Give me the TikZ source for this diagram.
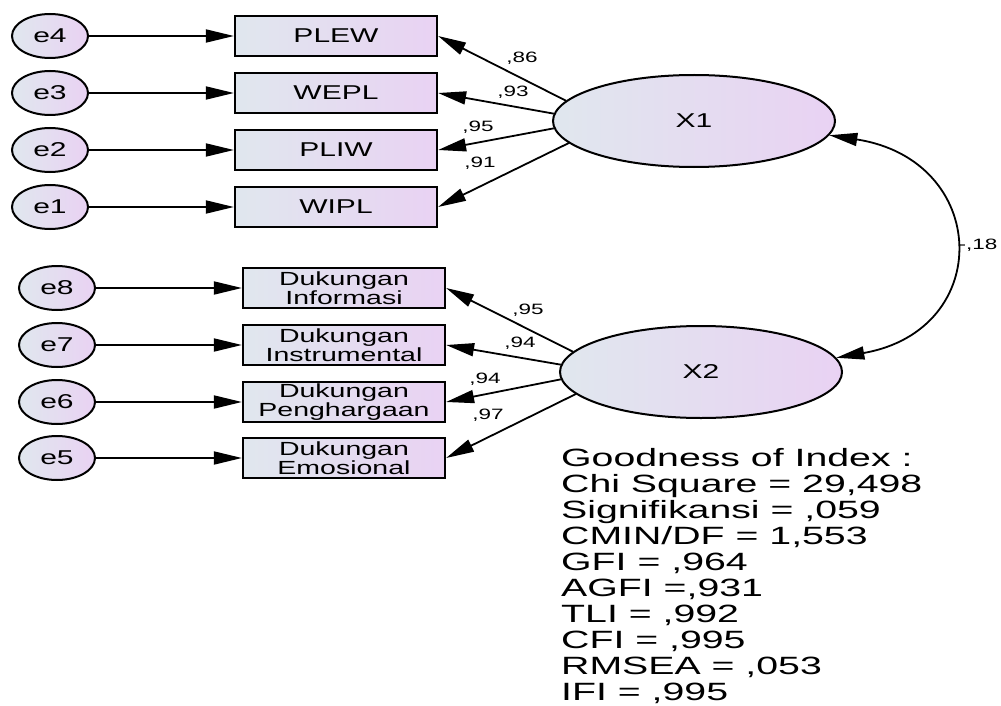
\documentclass[tikz,border=0pt]{standalone}
\usepackage{fontspec}
\setmainfont{Liberation Sans}
\usepackage{graphicx}
\usetikzlibrary{arrows.meta,shapes.geometric}

\definecolor{cA}{RGB}{224,231,238}
\definecolor{cB}{RGB}{233,210,243}
\newcommand{\sx}[2][1.5]{\scalebox{#1}[1]{#2}}

\tikzset{
  errnode/.style={ellipse, draw, line width=2pt, minimum width=76pt, minimum height=44pt,
    inner sep=0pt, left color=cA, right color=cB, font=\fontsize{20}{20}\selectfont},
  obsnode/.style={rectangle, draw, line width=2.2pt, minimum width=202pt, minimum height=40pt,
    inner sep=0pt, left color=cA, right color=cB, align=center, font=\fontsize{20}{20}\selectfont},
  obssmall/.style={obsnode, font=\fontsize{19}{18.5}\selectfont},
  latnode/.style={ellipse, draw, line width=2pt, minimum width=282pt, minimum height=92pt,
    inner sep=0pt, left color=cA, right color=cB, font=\fontsize{20}{20}\selectfont},
  arr/.style={-{Triangle[length=28pt,width=13pt]}, line width=1.8pt},
  covarr/.style={{Triangle[length=28pt,width=13pt]}-{Triangle[length=28pt,width=13pt]}, line width=1.8pt},
  lbl/.style={font=\fontsize{15}{15}\selectfont, inner sep=0pt},
}

\begin{document}
\begin{tikzpicture}[x=1pt,y=-1pt]
\useasboundingbox[fill=white] (0,0) rectangle (1001,706);

% latent variables
\node[latnode] (X1) at (694,121) {\sx{X1}};
\node[latnode] (X2) at (701,372) {\sx{X2}};

% top indicators
\node[obsnode] (PLEW) at (336,36) {\sx{PLEW}};
\node[obsnode] (WEPL) at (336,93) {\sx{WEPL}};
\node[obsnode] (PLIW) at (336,150) {\sx{PLIW}};
\node[obsnode] (WIPL) at (336,207) {\sx{WIPL}};

\node[errnode] (e4) at (50,36) {\sx{e4}};
\node[errnode] (e3) at (50,93) {\sx{e3}};
\node[errnode] (e2) at (50,150) {\sx{e2}};
\node[errnode] (e1) at (50,207) {\sx{e1}};

% bottom indicators
\node[obssmall] (DI) at (344,288) {\sx{Dukungan}\\\sx{Informasi}};
\node[obssmall] (DIn) at (344,345) {\sx{Dukungan}\\\sx{Instrumental}};
\node[obssmall] (DP) at (344,402) {\sx{Dukungan}\\\sx{Penghargaan}};
\node[obssmall] (DE) at (344,458) {\sx{Dukungan}\\\sx{Emosional}};

\node[errnode] (e8) at (57,288) {\sx{e8}};
\node[errnode] (e7) at (57,345) {\sx{e7}};
\node[errnode] (e6) at (57,402) {\sx{e6}};
\node[errnode] (e5) at (57,458) {\sx{e5}};

% error paths
\foreach \e/\o in {e4/PLEW,e3/WEPL,e2/PLIW,e1/WIPL,e8/DI,e7/DIn,e6/DP,e5/DE}
  \draw[arr] (\e) -- (\o);

% loadings
\draw[arr] (X1.171) -- (PLEW.east);
\draw[arr] (X1.177) -- (WEPL.east);
\draw[arr] (X1.183) -- (PLIW.east);
\draw[arr] (X1.190) -- (WIPL.east);
\draw[arr] (X2.171) -- (DI.east);
\draw[arr] (X2.177) -- (DIn.east);
\draw[arr] (X2.183) -- (DP.east);
\draw[arr] (X2.190) -- (DE.east);

% covariance
\draw[covarr] (X1.-6) .. controls (990,160) and (995,330) .. (X2.6);

% labels
\node[lbl] (l1) at (522,58) {\sx{,86}};
\node[lbl] (l2) at (513,92) {\sx{,93}};
\node[lbl] (l3) at (478,127) {\sx{,95}};
\node[lbl] (l4) at (480,163) {\sx{,91}};
\node[lbl] (l5) at (528,310) {\sx{,95}};
\node[lbl] (l6) at (520,343) {\sx{,94}};
\node[lbl] (l7) at (485,379) {\sx{,94}};
\node[lbl] (l8) at (488,415) {\sx{,97}};
\node[lbl] (l9) at (978,245) {\sx{-,18}};

% fit indices
\node[anchor=north west, align=left, inner sep=0pt, font=\fontsize{25}{26}\selectfont] (fit) at (561,448)
{\sx[1.57]{Goodness of Index :}\\
 \sx[1.57]{Chi Square = 29,498}\\
 \sx[1.57]{Signifikansi = ,059}\\
 \sx[1.57]{CMIN/DF = 1,553}\\
 \sx[1.57]{GFI = ,964}\\
 \sx[1.57]{AGFI =,931}\\
 \sx[1.57]{TLI = ,992}\\
 \sx[1.57]{CFI = ,995}\\
 \sx[1.57]{RMSEA = ,053}\\
 \sx[1.57]{IFI = ,995}};
\end{tikzpicture}
\end{document}
